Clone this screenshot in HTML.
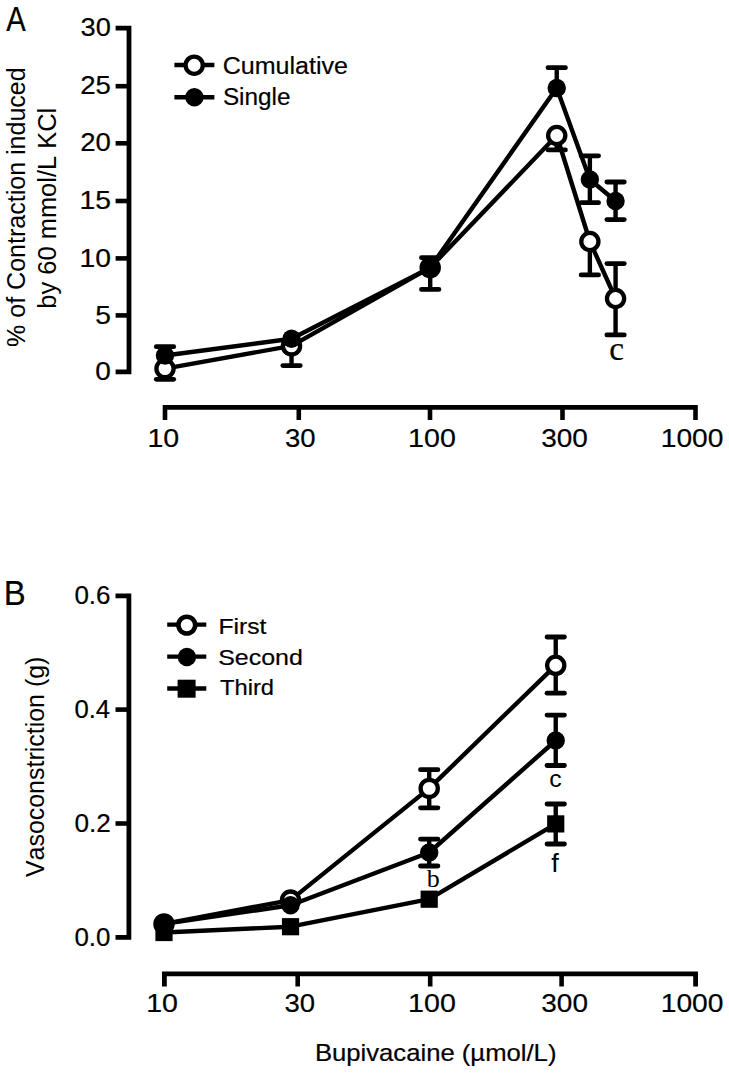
<!DOCTYPE html>
<html><head><meta charset="utf-8"><style>
html,body{margin:0;padding:0;background:#fff;}
svg{display:block;}
text{font-kerning:none;fill:#000;stroke:#000;stroke-width:0.2px;}
</style></head><body>
<svg width="729" height="1073" viewBox="0 0 729 1073">
<rect width="729" height="1073" fill="#fff"/>
<text transform="translate(6.24,30.60) scale(0.8241,1)" font-family='"Liberation Sans", sans-serif' font-size="35.5" >A</text>
<path d="M115.6,28.2 H129.0 V371.9 H115.6" stroke="#000" stroke-width="4.8" fill="none" stroke-linejoin="miter" stroke-linecap="butt"/>
<line x1="115.60" y1="86.20" x2="129.00" y2="86.20" stroke="#000" stroke-width="4.6" stroke-linecap="butt"/>
<line x1="115.60" y1="143.30" x2="129.00" y2="143.30" stroke="#000" stroke-width="4.6" stroke-linecap="butt"/>
<line x1="115.60" y1="201.00" x2="129.00" y2="201.00" stroke="#000" stroke-width="4.6" stroke-linecap="butt"/>
<line x1="115.60" y1="258.40" x2="129.00" y2="258.40" stroke="#000" stroke-width="4.6" stroke-linecap="butt"/>
<line x1="115.60" y1="315.40" x2="129.00" y2="315.40" stroke="#000" stroke-width="4.6" stroke-linecap="butt"/>
<text transform="translate(80.56,36.30) scale(1.0897,1)" font-family='"Liberation Sans", sans-serif' font-size="25" >30</text>
<text transform="translate(80.21,94.30) scale(1.1059,1)" font-family='"Liberation Sans", sans-serif' font-size="25" >25</text>
<text transform="translate(80.21,151.40) scale(1.1027,1)" font-family='"Liberation Sans", sans-serif' font-size="25" >20</text>
<text transform="translate(79.44,209.10) scale(1.1346,1)" font-family='"Liberation Sans", sans-serif' font-size="25" >15</text>
<text transform="translate(79.45,266.50) scale(1.1313,1)" font-family='"Liberation Sans", sans-serif' font-size="25" >10</text>
<text transform="translate(95.27,323.50) scale(1.1305,1)" font-family='"Liberation Sans", sans-serif' font-size="25" >5</text>
<text transform="translate(95.31,380.00) scale(1.1213,1)" font-family='"Liberation Sans", sans-serif' font-size="25" >0</text>
<text transform="translate(24.80,346.89) rotate(-90) scale(1.0013,1)" font-family='"Liberation Sans", sans-serif' font-size="25" style="stroke:none">% of Contraction induced</text>
<text transform="translate(55.50,308.64) rotate(-90) scale(1.0190,1)" font-family='"Liberation Sans", sans-serif' font-size="25" style="stroke:none">by 60 mmol/L KCl</text>
<path d="M165.0,420 V407.4 H695.5 V420" stroke="#000" stroke-width="4.6" fill="none" stroke-linejoin="miter" stroke-linecap="butt"/>
<line x1="298.80" y1="407.40" x2="298.80" y2="420.00" stroke="#000" stroke-width="4.6" stroke-linecap="butt"/>
<line x1="430.00" y1="407.40" x2="430.00" y2="420.00" stroke="#000" stroke-width="4.6" stroke-linecap="butt"/>
<line x1="562.50" y1="407.40" x2="562.50" y2="420.00" stroke="#000" stroke-width="4.6" stroke-linecap="butt"/>
<text transform="translate(147.47,446.60) scale(1.1433,1)" font-family='"Liberation Sans", sans-serif' font-size="25" >10</text>
<text transform="translate(284.90,446.60) scale(1.1013,1)" font-family='"Liberation Sans", sans-serif' font-size="25" >30</text>
<text transform="translate(408.07,446.60) scale(1.1460,1)" font-family='"Liberation Sans", sans-serif' font-size="25" >100</text>
<text transform="translate(541.18,446.60) scale(1.1186,1)" font-family='"Liberation Sans", sans-serif' font-size="25" >300</text>
<text transform="translate(660.70,446.60) scale(1.1283,1)" font-family='"Liberation Sans", sans-serif' font-size="25" >1000</text>
<line x1="174.40" y1="65.00" x2="214.40" y2="65.00" stroke="#000" stroke-width="4.4" stroke-linecap="butt"/>
<circle cx="194.20" cy="65.20" r="8.6" fill="#fff" stroke="#000" stroke-width="4.3"/>
<line x1="174.40" y1="97.20" x2="214.40" y2="97.20" stroke="#000" stroke-width="4.4" stroke-linecap="butt"/>
<circle cx="194.40" cy="97.20" r="9.2" fill="#000"/>
<text transform="translate(222.73,74.20) scale(1.0232,1)" font-family='"Liberation Sans", sans-serif' font-size="24.5" >Cumulative</text>
<text transform="translate(222.89,105.40) scale(0.9939,1)" font-family='"Liberation Sans", sans-serif' font-size="24.5" >Single</text>
<path d="M165.00,355.50 L291.53,338.70 L430.20,267.60 L556.73,88.00 L589.87,179.50 L615.57,201.00" stroke="#000" stroke-width="4.4" fill="none" stroke-linejoin="round" stroke-linecap="butt"/>
<path d="M165.00,368.60 L291.53,345.90 L430.20,267.60 L556.73,135.50 L589.87,241.50 L615.57,298.50" stroke="#000" stroke-width="4.4" fill="none" stroke-linejoin="round" stroke-linecap="butt"/>
<line x1="165.00" y1="355.50" x2="165.00" y2="346.70" stroke="#000" stroke-width="4.4" stroke-linecap="butt"/><line x1="156.30" y1="346.70" x2="173.70" y2="346.70" stroke="#000" stroke-width="4.8" stroke-linecap="round"/>
<line x1="165.00" y1="368.60" x2="165.00" y2="379.30" stroke="#000" stroke-width="4.4" stroke-linecap="butt"/><line x1="156.30" y1="379.30" x2="173.70" y2="379.30" stroke="#000" stroke-width="4.8" stroke-linecap="round"/>
<line x1="291.53" y1="345.90" x2="291.53" y2="365.60" stroke="#000" stroke-width="4.4" stroke-linecap="butt"/><line x1="282.83" y1="365.60" x2="300.23" y2="365.60" stroke="#000" stroke-width="4.8" stroke-linecap="round"/>
<line x1="430.20" y1="268.00" x2="430.20" y2="257.70" stroke="#000" stroke-width="4.4" stroke-linecap="butt"/><line x1="421.50" y1="257.70" x2="438.90" y2="257.70" stroke="#000" stroke-width="4.8" stroke-linecap="round"/>
<line x1="430.20" y1="268.00" x2="430.20" y2="289.40" stroke="#000" stroke-width="4.4" stroke-linecap="butt"/><line x1="421.50" y1="289.40" x2="438.90" y2="289.40" stroke="#000" stroke-width="4.8" stroke-linecap="round"/>
<line x1="556.73" y1="88.00" x2="556.73" y2="67.70" stroke="#000" stroke-width="4.4" stroke-linecap="butt"/><line x1="548.03" y1="67.70" x2="565.43" y2="67.70" stroke="#000" stroke-width="4.8" stroke-linecap="round"/>
<line x1="556.73" y1="135.50" x2="556.73" y2="149.90" stroke="#000" stroke-width="4.4" stroke-linecap="butt"/><line x1="548.03" y1="149.90" x2="565.43" y2="149.90" stroke="#000" stroke-width="4.8" stroke-linecap="round"/>
<line x1="589.87" y1="179.50" x2="589.87" y2="155.80" stroke="#000" stroke-width="4.4" stroke-linecap="butt"/><line x1="581.17" y1="155.80" x2="598.57" y2="155.80" stroke="#000" stroke-width="4.8" stroke-linecap="round"/>
<line x1="589.87" y1="179.50" x2="589.87" y2="202.70" stroke="#000" stroke-width="4.4" stroke-linecap="butt"/><line x1="581.17" y1="202.70" x2="598.57" y2="202.70" stroke="#000" stroke-width="4.8" stroke-linecap="round"/>
<line x1="589.87" y1="241.50" x2="589.87" y2="274.90" stroke="#000" stroke-width="4.4" stroke-linecap="butt"/><line x1="581.17" y1="274.90" x2="598.57" y2="274.90" stroke="#000" stroke-width="4.8" stroke-linecap="round"/>
<line x1="615.57" y1="201.00" x2="615.57" y2="182.00" stroke="#000" stroke-width="4.4" stroke-linecap="butt"/><line x1="606.87" y1="182.00" x2="624.27" y2="182.00" stroke="#000" stroke-width="4.8" stroke-linecap="round"/>
<line x1="615.57" y1="201.00" x2="615.57" y2="219.60" stroke="#000" stroke-width="4.4" stroke-linecap="butt"/><line x1="606.87" y1="219.60" x2="624.27" y2="219.60" stroke="#000" stroke-width="4.8" stroke-linecap="round"/>
<line x1="615.57" y1="298.50" x2="615.57" y2="263.60" stroke="#000" stroke-width="4.4" stroke-linecap="butt"/><line x1="606.87" y1="263.60" x2="624.27" y2="263.60" stroke="#000" stroke-width="4.8" stroke-linecap="round"/>
<line x1="615.57" y1="298.50" x2="615.57" y2="334.90" stroke="#000" stroke-width="4.4" stroke-linecap="butt"/><line x1="606.87" y1="334.90" x2="624.27" y2="334.90" stroke="#000" stroke-width="4.8" stroke-linecap="round"/>
<circle cx="165.00" cy="368.60" r="8.6" fill="#fff" stroke="#000" stroke-width="4.3"/>
<circle cx="291.53" cy="345.90" r="8.6" fill="#fff" stroke="#000" stroke-width="4.3"/>
<circle cx="430.20" cy="267.60" r="8.6" fill="#fff" stroke="#000" stroke-width="4.3"/>
<circle cx="556.73" cy="135.50" r="8.6" fill="#fff" stroke="#000" stroke-width="4.3"/>
<circle cx="589.87" cy="241.50" r="8.6" fill="#fff" stroke="#000" stroke-width="4.3"/>
<circle cx="615.57" cy="298.50" r="8.6" fill="#fff" stroke="#000" stroke-width="4.3"/>
<circle cx="165.00" cy="355.50" r="9.2" fill="#000"/>
<circle cx="291.53" cy="338.70" r="9.2" fill="#000"/>
<circle cx="430.20" cy="267.60" r="9.2" fill="#000"/>
<circle cx="556.73" cy="88.00" r="9.2" fill="#000"/>
<circle cx="589.87" cy="179.50" r="9.2" fill="#000"/>
<circle cx="615.57" cy="201.00" r="9.2" fill="#000"/>
<text transform="translate(609.23,359.50) scale(0.9804,1)" font-family='"Liberation Serif", serif' font-size="34" >c</text>
<text transform="translate(3.80,604.80) scale(0.9394,1)" font-family='"Liberation Sans", sans-serif' font-size="35" >B</text>
<path d="M115.5,595.8 H128.9 V937.3 H115.5" stroke="#000" stroke-width="4.8" fill="none" stroke-linejoin="miter" stroke-linecap="butt"/>
<line x1="115.50" y1="709.60" x2="128.90" y2="709.60" stroke="#000" stroke-width="4.6" stroke-linecap="butt"/>
<line x1="115.50" y1="823.50" x2="128.90" y2="823.50" stroke="#000" stroke-width="4.6" stroke-linecap="butt"/>
<text transform="translate(74.38,604.20) scale(1.0404,1)" font-family='"Liberation Sans", sans-serif' font-size="25" >0.6</text>
<text transform="translate(74.40,718.00) scale(1.0289,1)" font-family='"Liberation Sans", sans-serif' font-size="25" >0.4</text>
<text transform="translate(74.38,831.90) scale(1.0455,1)" font-family='"Liberation Sans", sans-serif' font-size="25" >0.2</text>
<text transform="translate(74.39,945.70) scale(1.0366,1)" font-family='"Liberation Sans", sans-serif' font-size="25" >0.0</text>
<text transform="translate(43.70,877.11) rotate(-90) scale(0.9988,1)" font-family='"Liberation Sans", sans-serif' font-size="25" style="stroke:none">Vasoconstriction (g)</text>
<path d="M164.4,986.5 V973.9 H695.6 V986.5" stroke="#000" stroke-width="4.8" fill="none" stroke-linejoin="miter" stroke-linecap="butt"/>
<line x1="297.70" y1="973.90" x2="297.70" y2="986.50" stroke="#000" stroke-width="4.6" stroke-linecap="butt"/>
<line x1="430.20" y1="973.90" x2="430.20" y2="986.50" stroke="#000" stroke-width="4.6" stroke-linecap="butt"/>
<line x1="561.60" y1="973.90" x2="561.60" y2="986.50" stroke="#000" stroke-width="4.6" stroke-linecap="butt"/>
<text transform="translate(146.17,1012.20) scale(1.1433,1)" font-family='"Liberation Sans", sans-serif' font-size="25" >10</text>
<text transform="translate(284.50,1012.20) scale(1.1013,1)" font-family='"Liberation Sans", sans-serif' font-size="25" >30</text>
<text transform="translate(408.07,1012.20) scale(1.1460,1)" font-family='"Liberation Sans", sans-serif' font-size="25" >100</text>
<text transform="translate(541.28,1012.20) scale(1.1186,1)" font-family='"Liberation Sans", sans-serif' font-size="25" >300</text>
<text transform="translate(660.70,1012.20) scale(1.1283,1)" font-family='"Liberation Sans", sans-serif' font-size="25" >1000</text>
<text transform="translate(314.89,1061.00) scale(1.1163,1)" font-family='"Liberation Sans", sans-serif' font-size="23" >Bupivacaine (µmol/L)</text>
<line x1="167.20" y1="624.60" x2="206.30" y2="624.60" stroke="#000" stroke-width="4.4" stroke-linecap="butt"/>
<line x1="167.20" y1="656.60" x2="206.30" y2="656.60" stroke="#000" stroke-width="4.4" stroke-linecap="butt"/>
<line x1="167.20" y1="688.50" x2="206.30" y2="688.50" stroke="#000" stroke-width="4.4" stroke-linecap="butt"/>
<circle cx="186.80" cy="625.10" r="8.4" fill="#fff" stroke="#000" stroke-width="4.6"/>
<circle cx="186.90" cy="657.00" r="9.2" fill="#000"/>
<rect x="177.60" y="679.70" width="18.0" height="18.0" fill="#000"/>
<text transform="translate(218.47,633.70) scale(1.1226,1)" font-family='"Liberation Sans", sans-serif' font-size="22" >First</text>
<text transform="translate(218.17,664.60) scale(1.1358,1)" font-family='"Liberation Sans", sans-serif' font-size="22" >Second</text>
<text transform="translate(219.97,695.40) scale(1.0786,1)" font-family='"Liberation Sans", sans-serif' font-size="22" >Third</text>
<path d="M164.00,923.90 L290.53,900.10 L429.20,788.40 L555.73,665.30" stroke="#000" stroke-width="4.4" fill="none" stroke-linejoin="round" stroke-linecap="butt"/>
<path d="M164.00,923.90 L290.53,905.30 L429.20,852.50 L555.73,740.50" stroke="#000" stroke-width="4.4" fill="none" stroke-linejoin="round" stroke-linecap="butt"/>
<path d="M164.00,932.50 L290.53,926.70 L429.20,899.20 L555.73,823.90" stroke="#000" stroke-width="4.4" fill="none" stroke-linejoin="round" stroke-linecap="butt"/>
<line x1="429.20" y1="788.40" x2="429.20" y2="769.70" stroke="#000" stroke-width="4.4" stroke-linecap="butt"/><line x1="420.50" y1="769.70" x2="437.90" y2="769.70" stroke="#000" stroke-width="4.8" stroke-linecap="round"/>
<line x1="429.20" y1="788.40" x2="429.20" y2="807.80" stroke="#000" stroke-width="4.4" stroke-linecap="butt"/><line x1="420.50" y1="807.80" x2="437.90" y2="807.80" stroke="#000" stroke-width="4.8" stroke-linecap="round"/>
<line x1="555.73" y1="665.30" x2="555.73" y2="637.00" stroke="#000" stroke-width="4.4" stroke-linecap="butt"/><line x1="547.03" y1="637.00" x2="564.43" y2="637.00" stroke="#000" stroke-width="4.8" stroke-linecap="round"/>
<line x1="555.73" y1="665.30" x2="555.73" y2="693.20" stroke="#000" stroke-width="4.4" stroke-linecap="butt"/><line x1="547.03" y1="693.20" x2="564.43" y2="693.20" stroke="#000" stroke-width="4.8" stroke-linecap="round"/>
<line x1="429.20" y1="852.50" x2="429.20" y2="839.10" stroke="#000" stroke-width="4.4" stroke-linecap="butt"/><line x1="420.50" y1="839.10" x2="437.90" y2="839.10" stroke="#000" stroke-width="4.8" stroke-linecap="round"/>
<line x1="429.20" y1="852.50" x2="429.20" y2="866.00" stroke="#000" stroke-width="4.4" stroke-linecap="butt"/><line x1="420.50" y1="866.00" x2="437.90" y2="866.00" stroke="#000" stroke-width="4.8" stroke-linecap="round"/>
<line x1="555.73" y1="740.50" x2="555.73" y2="715.10" stroke="#000" stroke-width="4.4" stroke-linecap="butt"/><line x1="547.03" y1="715.10" x2="564.43" y2="715.10" stroke="#000" stroke-width="4.8" stroke-linecap="round"/>
<line x1="555.73" y1="740.50" x2="555.73" y2="765.50" stroke="#000" stroke-width="4.4" stroke-linecap="butt"/><line x1="547.03" y1="765.50" x2="564.43" y2="765.50" stroke="#000" stroke-width="4.8" stroke-linecap="round"/>
<line x1="555.73" y1="823.90" x2="555.73" y2="804.00" stroke="#000" stroke-width="4.4" stroke-linecap="butt"/><line x1="547.03" y1="804.00" x2="564.43" y2="804.00" stroke="#000" stroke-width="4.8" stroke-linecap="round"/>
<line x1="555.73" y1="823.90" x2="555.73" y2="844.00" stroke="#000" stroke-width="4.4" stroke-linecap="butt"/><line x1="547.03" y1="844.00" x2="564.43" y2="844.00" stroke="#000" stroke-width="4.8" stroke-linecap="round"/>
<circle cx="164.00" cy="923.90" r="8.6" fill="#fff" stroke="#000" stroke-width="4.3"/>
<circle cx="290.53" cy="900.10" r="8.6" fill="#fff" stroke="#000" stroke-width="4.3"/>
<circle cx="429.20" cy="788.40" r="8.6" fill="#fff" stroke="#000" stroke-width="4.3"/>
<circle cx="555.73" cy="665.30" r="8.6" fill="#fff" stroke="#000" stroke-width="4.3"/>
<circle cx="164.00" cy="923.90" r="9.2" fill="#000"/>
<circle cx="290.53" cy="905.30" r="9.2" fill="#000"/>
<circle cx="429.20" cy="852.50" r="9.2" fill="#000"/>
<circle cx="555.73" cy="740.50" r="9.2" fill="#000"/>
<rect x="155.40" y="923.90" width="17.2" height="17.2" fill="#000"/>
<rect x="281.93" y="918.10" width="17.2" height="17.2" fill="#000"/>
<rect x="420.60" y="890.60" width="17.2" height="17.2" fill="#000"/>
<rect x="547.13" y="815.30" width="17.2" height="17.2" fill="#000"/>
<text transform="translate(426.80,887.00) scale(1.0392,1)" font-family='"Liberation Serif", serif' font-size="25" style="stroke:none">b</text>
<text transform="translate(549.25,786.50) scale(1.0341,1)" font-family='"Liberation Sans", sans-serif' font-size="24" style="stroke:none">c</text>
<text transform="translate(551.22,871.80) scale(1.0862,1)" font-family='"Liberation Sans", sans-serif' font-size="25" style="stroke:none">f</text>
</svg>
</body></html>
